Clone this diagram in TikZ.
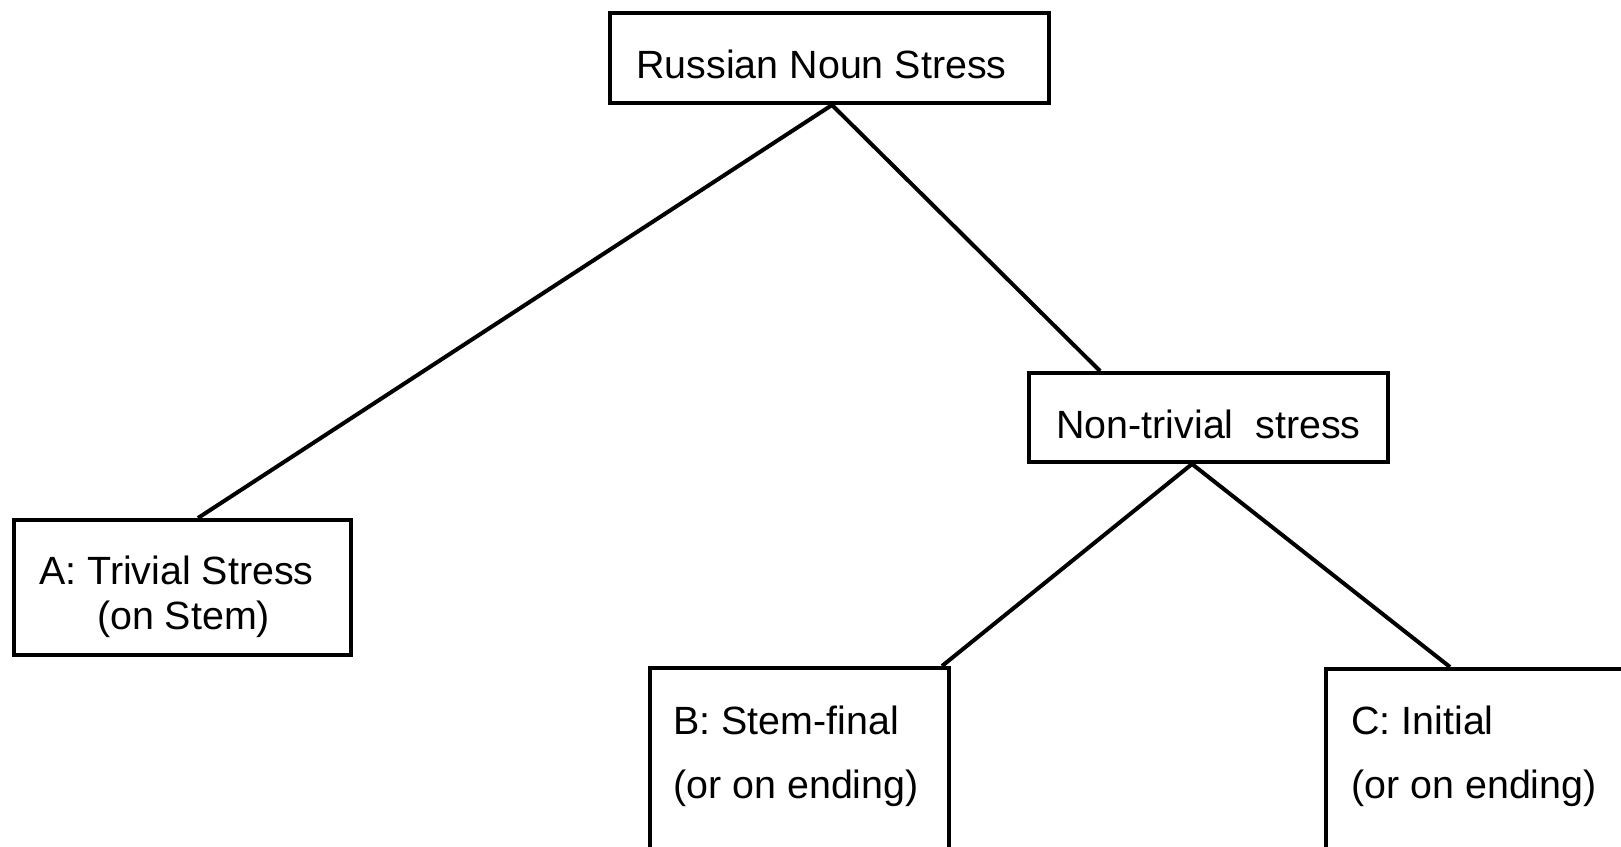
\documentclass[tikz,border=0pt]{standalone}
\usepackage{fontspec}
\setmainfont{Liberation Sans}
\begin{document}
\begin{tikzpicture}[x=0.5pt,y=-0.5pt,
  box/.style={draw=black,line width=2pt,rectangle,inner sep=0pt},
  txt/.style={inner sep=0pt,font=\fontsize{19.7}{23}\selectfont},
  edge/.style={draw=black,line width=2pt}]
\useasboundingbox (0,0) rectangle (1621,846);
\clip (0,0) rectangle (1621,846);
% boxes
\node[box,minimum width=219.5pt,minimum height=45pt] (root) at (829.5,58) {};
\node[box,minimum width=179.5pt,minimum height=44.5pt] (nt) at (1208.5,417.5) {};
\node[box,minimum width=168.5pt,minimum height=67.5pt] (A) at (182.5,587.5) {};
\node[box,minimum width=149.5pt,minimum height=116pt] (B) at (799.5,784) {};
\node[box,minimum width=187pt,minimum height=115.5pt] (C) at (1513,784.5) {};
% texts
\node[txt,anchor=base] (roottext) at (821.5,78) {Russian Noun Stress};
\node[txt,anchor=base] (nttext) at (1208.5,438) {Non-trivial\ \ stress};
\node[txt,anchor=base] (Atext1) at (176.5,584) {A: Trivial Stress};
\node[txt,anchor=base] (Atext2) at (183.5,629) {(on Stem)};
\node[txt,anchor=base west] (Btext1) at (673,734) {B: Stem-final};
\node[txt,anchor=base west] (Btext2) at (673,798) {(or on ending)};
\node[txt,anchor=base west] (Ctext1) at (1351,734) {C: Initial};
\node[txt,anchor=base west] (Ctext2) at (1351,798) {(or on ending)};
% connectors
\draw[edge] ([xshift=1.25pt]root.south) -- ([xshift=7.75pt]A.north);
\draw[edge] ([xshift=1.25pt]root.south) -- ([xshift=-54.25pt]nt.north);
\draw[edge] ([xshift=-8.25pt]nt.south) -- ([xshift=71.25pt]B.north);
\draw[edge] ([xshift=-8.25pt]nt.south) -- ([xshift=-31.5pt]C.north);
\end{tikzpicture}
\end{document}
